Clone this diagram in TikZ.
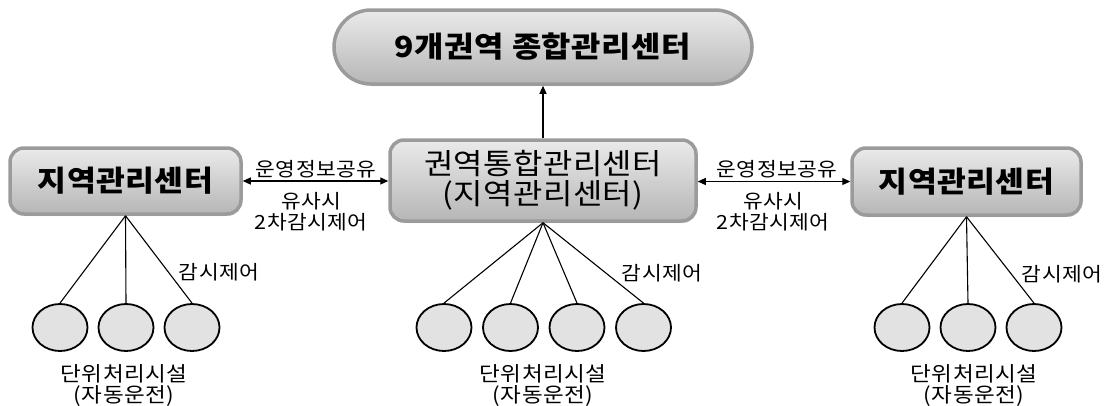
\documentclass[tikz,border=0pt]{standalone}
\usepackage{fontspec}
\setmainfont{Noto Sans CJK KR}
\usetikzlibrary{arrows.meta,shadows,shapes.geometric}
\definecolor{boxborder}{RGB}{155,155,155}
\definecolor{boxtop}{RGB}{234,234,234}
\definecolor{boxbot}{RGB}{182,182,182}
\definecolor{circfill}{RGB}{226,226,226}
\begin{document}
\begin{tikzpicture}[x=1pt,y=-1pt,
  panel/.style={draw=boxborder, line width=3.5pt, rounded corners=14pt,
    top color=boxtop, bottom color=boxbot, inner sep=0pt, align=center,
    drop shadow={shadow xshift=1pt,shadow yshift=-2pt,opacity=0.2}},
  bigtxt/.style={font=\fontsize{29}{30}\selectfont\addfontfeatures{FakeStretch=1.1,LetterSpace=1.5}},
  boldtxt/.style={font=\bfseries\fontsize{29}{30}\selectfont\addfontfeatures{FakeStretch=1.08,LetterSpace=1.5}},
  lab/.style={font=\fontsize{19.5}{21}\selectfont\addfontfeatures{FakeStretch=1.1,LetterSpace=2}, inner sep=0pt, align=center},
  botlab/.style={font=\fontsize{20.5}{21.5}\selectfont\addfontfeatures{FakeStretch=1.1,LetterSpace=2}, inner sep=0pt, align=center},
  unit/.style={ellipse, draw=black, line width=1.8pt, fill=circfill,
    minimum width=55pt, minimum height=47pt, inner sep=0pt},
  conn/.style={draw=black, line width=1.1pt},
  tip/.style={-{Triangle[length=8pt,width=7pt]}},
  tips/.style={{Triangle[length=8pt,width=7pt]}-{Triangle[length=8pt,width=7pt]}}
]
\useasboundingbox (0,0) rectangle (1105,405);

% boxes
\node[panel, rounded corners=37pt, minimum width=418pt, minimum height=74pt,
  font=\bfseries\fontsize{29}{30}\selectfont\addfontfeatures{FakeStretch=1.1,LetterSpace=2}] (T) at (543,47) {9개권역 종합관리센터};
\node[panel, bigtxt, minimum width=306pt, minimum height=81pt] (C) at (543,180.5)
  {권역통합관리센터\\(지역관리센터)};
\node[panel, boldtxt, minimum width=231pt, minimum height=66pt] (L) at (125.5,181) {지역관리센터};
\node[panel, boldtxt, minimum width=229pt, minimum height=67pt] (R) at (966.5,181.5) {지역관리센터};

% arrows between centers
\draw[conn, tip] (C.north) -- (T.south);
\draw[conn, tips] (L.east) -- (C.west |- L.east);
\draw[conn, tips] (C.east |- R.west) -- (R.west);

% labels on arrows
\node[lab] (la1) at (316,169.5) {운영정보공유};
\node[lab] (la2) at (311,211.5) {유사시\\2차감시제어};
\node[lab] (ra1) at (777,169.5) {운영정보공유};
\node[lab] (ra2) at (773,211.5) {유사시\\2차감시제어};

% units left
\node[unit] (l1) at (60,327.5) {};
\node[unit] (l2) at (126,327.5) {};
\node[unit] (l3) at (192,327.5) {};
% units center
\node[unit] (c1) at (444,327.5) {};
\node[unit] (c2) at (510.5,327.5) {};
\node[unit] (c3) at (577,327.5) {};
\node[unit] (c4) at (643.5,327.5) {};
% units right
\node[unit] (r1) at (902,327.5) {};
\node[unit] (r2) at (968,327.5) {};
\node[unit] (r3) at (1034,327.5) {};

% connectors
\foreach \u in {l1,l2,l3} \draw[conn] (L.south) -- (\u.north);
\foreach \u in {c1,c2,c3,c4} \draw[conn] (C.south) -- (\u.north);
\foreach \u in {r1,r2,r3} \draw[conn] (R.south) -- (\u.north);

% control labels
\node[lab] (lk) at (219,272) {감시제어};
\node[lab] (ck) at (662,273) {감시제어};
\node[lab] (rk) at (1062,274) {감시제어};

% bottom labels
\node[botlab] (lb) at (124,385.5) {단위처리시설\\(자동운전)};
\node[botlab] (cb) at (543,385.5) {단위처리시설\\(자동운전)};
\node[botlab] (rb) at (974,385.5) {단위처리시설\\(자동운전)};
\end{tikzpicture}
\end{document}
